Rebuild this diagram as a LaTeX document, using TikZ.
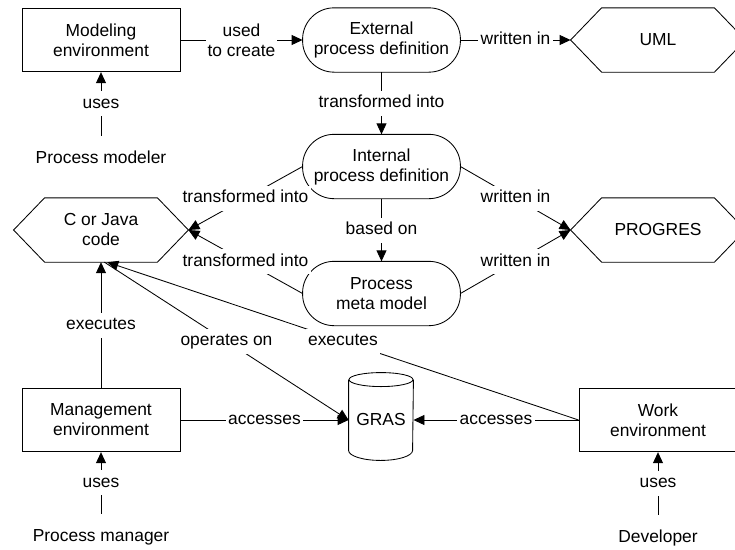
\documentclass[tikz,border=0pt]{standalone}
\usepackage{fontspec}
\setmainfont{Liberation Sans}
\usetikzlibrary{arrows.meta}

% outlines drawn around plain rectangular nodes
\newcommand\stadiumoutline[1]{\draw[rounded corners=31.5pt] (#1.north west) rectangle (#1.south east);}
\newcommand\hexoutline[1]{\draw ([xshift=31pt]#1.north west) -- ([xshift=-31pt]#1.north east) -- (#1.east)
  -- ([xshift=-31pt]#1.south east) -- ([xshift=31pt]#1.south west) -- (#1.west) -- cycle;}

\begin{document}
\begin{tikzpicture}[x=1pt, y=-1pt, line width=0.85pt,
  font=\fontsize{17.4}{20}\selectfont,
  box/.style={draw, rectangle, minimum width=158pt, minimum height=63.5pt, inner sep=0pt, align=center},
  stadium/.style={rectangle, minimum width=157pt, minimum height=63.5pt, inner sep=0pt, align=center},
  hexa/.style={rectangle, minimum width=174pt, minimum height=63.5pt, inner sep=0pt, align=center},
  store/.style={rectangle, minimum width=64pt, minimum height=80pt, inner sep=0pt},
  actor/.style={inner xsep=2pt, inner ysep=15pt, text height=12.5pt, text depth=3.5pt},
  lbl/.style={fill=white, inner xsep=2.5pt, inner ysep=4.5pt, text height=12.5pt, text depth=3.5pt},
  lbltwo/.style={fill=white, inner sep=2pt, align=center},
  link/.style={-{Triangle[length=11pt,width=10pt]}}]

\useasboundingbox (0,0) rectangle (735,549);

% tools, definitions and languages
\node[box] (modeling) at (101,40) {Modeling\\environment};
\node[stadium] (ext) at (381.5,40) {External\\process definition};
\node[hexa] (uml) at (658,40) {UML};
\node[stadium] (int) at (381.5,166.5) {Internal\\process definition};
\node[hexa] (cj) at (101,230) {C or Java\\code};
\node[hexa] (prog) at (658,230) {PROGRES};
\node[stadium] (meta) at (381.5,293.5) {Process\\meta model};
\node[box] (mgmt) at (101,420) {Management\\environment};
\node[box] (work) at (658,420) {Work\\environment};
\node[store] (gras) at (381,420) {GRAS};

\stadiumoutline{ext}
\stadiumoutline{int}
\stadiumoutline{meta}
\hexoutline{uml}
\hexoutline{cj}
\hexoutline{prog}

% database cylinder
\draw (gras.north) ellipse [x radius=32pt, y radius=7pt];
\draw (gras.north west) -- ([yshift=10pt]gras.south west)
  arc [start angle=180, end angle=360, x radius=32pt, y radius=10pt]
  -- (gras.north east);

% people
\node[actor] (modeler) at (101,159) {Process modeler};
\node[actor] (manager) at (101,537) {Process manager};
\node[actor] (developer) at (658,538) {Developer};

% relations
\draw[link] (modeling.east) -- node[lbltwo] (l1) {used\\to create} (ext.west);
\draw[link] (ext.east) -- node[lbl] (l2) {written in} (uml.west);
\draw[link] (ext.south) -- node[lbl] (l3) {transformed into} (int.north);
\draw[link] (modeler.north) -- node[lbl] (l4) {uses} (modeling.south);
\draw[link] (int.west) -- node[lbl] (l5) {transformed into} (cj.east);
\draw[link] (meta.west) -- node[lbl] (l6) {transformed into} (cj.east);
\draw[link] (int.south) -- node[lbl] (l7) {based on} (meta.north);
\draw[link] (int.east) -- node[lbl] (l8) {written in} (prog.west);
\draw[link] (meta.east) -- node[lbl] (l9) {written in} (prog.west);
\draw[link] (mgmt.north) -- node[lbl] (l10) {executes} (cj.south);
\draw[link] (cj.-84) -- node[lbl] (l11) {operates on} (gras.west);
\draw[link] (work.west) -- node[lbl] (l12) {executes} (cj.-79);
\draw[link] (mgmt.east) -- node[lbl] (l13) {accesses} (gras.west);
\draw[link] (work.west) -- node[lbl] (l14) {accesses} (gras.east);
\draw[link] (manager.north) -- node[lbl] (l15) {uses} (mgmt.south);
\draw[link] (developer.north) -- node[lbl] (l16) {uses} (work.south);
\end{tikzpicture}
\end{document}
